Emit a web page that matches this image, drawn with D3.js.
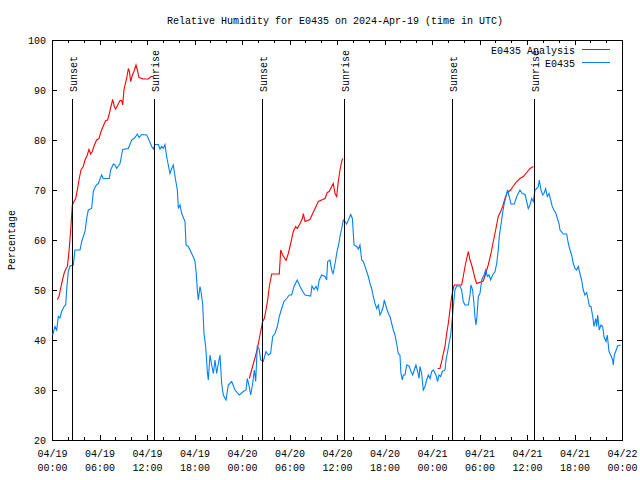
<!DOCTYPE html>
<html><head><meta charset="utf-8">
<script src="https://cdn.jsdelivr.net/npm/d3@7/dist/d3.min.js"></script>
<style>
body{margin:0;background:#fff}
text{font-family:"Liberation Mono","DejaVu Sans Mono",monospace;font-size:10px;fill:#000}
</style>
</head><body>
<svg id="chart" width="640" height="480"></svg>
<script>
// ---------- DATA ----------
const titleText = "Relative Humidity for E0435 on 2024-Apr-19 (time in UTC)";
const yLabel = "Percentage";
const seriesNames = ["E0435 Analysis", "E0435"];
const startTime = "2024-04-19T00:00:00Z";
const endTime = "2024-04-22T00:00:00Z";
const yTicks = [20, 30, 40, 50, 60, 70, 80, 90, 100];
const sunsetHours = [2.57, 26.57, 50.57];
const sunriseHours = [12.92, 36.84, 60.85];

// observations (hours since start, %)
const obsHours = [0.08,0.38,0.59,0.8,1.0,1.22,1.52,1.73,1.85,2.06,2.27,2.69,2.9,3.54,3.75,3.96,4.17,4.38,4.59,5.0,5.22,5.51,5.85,6.27,6.48,7.24,7.41,7.75,7.96,8.17,8.59,8.93,9.64,10.06,10.48,10.78,11.0,11.33,11.96,12.17,12.59,12.8,13.0,13.43,13.64,13.85,14.06,14.27,14.48,14.69,14.9,15.12,15.32,15.54,15.83,15.96,16.17,16.38,16.8,16.93,17.22,17.64,17.94,18.06,18.2,18.36,18.48,18.69,18.82,19.03,19.2,19.41,19.62,19.74,19.96,20.17,20.38,20.59,20.8,21.01,21.22,21.43,21.64,21.98,22.27,22.7,23.11,23.66,24.17,24.5,24.67,24.92,25.1,25.35,25.56,25.73,25.93,26.15,26.36,26.69,27.03,27.32,27.61,27.88,28.17,28.46,28.71,29.01,29.3,29.64,29.97,30.27,30.57,30.98,31.33,31.67,31.96,32.67,32.84,33.1,33.35,33.55,33.76,34.06,34.48,34.69,34.82,35.11,35.33,35.5,35.6,35.8,36.0,36.16,36.38,36.59,36.8,37.01,37.22,37.43,37.73,37.94,38.15,38.48,38.69,38.9,39.12,39.33,39.54,39.75,39.96,40.17,40.38,40.58,40.8,41.01,41.22,41.43,41.64,41.85,41.97,42.27,42.48,42.69,42.91,43.11,43.32,43.53,43.74,43.95,44.08,44.25,44.38,44.59,44.8,45.1,45.35,45.56,45.76,45.97,46.19,46.36,46.48,46.69,46.9,47.11,47.33,47.54,47.75,47.96,48.16,48.5,48.71,48.88,49.09,49.3,49.64,49.77,49.98,50.15,50.36,50.56,50.69,50.9,51.11,51.53,51.74,51.95,52.17,52.59,52.8,52.92,53.13,53.3,53.42,53.55,53.68,53.85,54.06,54.28,54.57,54.78,54.99,55.2,55.41,55.66,55.96,56.17,56.37,56.5,56.68,56.88,57.09,57.34,57.55,57.75,57.98,58.4,58.7,59.11,59.4,59.75,59.96,60.16,60.38,60.59,60.8,61.01,61.22,61.43,61.55,61.77,61.98,62.14,62.36,62.56,62.78,62.99,63.19,63.41,63.66,63.83,64.04,64.17,64.59,65.01,65.22,65.43,65.64,65.85,66.06,66.27,66.48,66.69,66.9,67.11,67.32,67.54,67.74,67.87,68.08,68.3,68.46,68.68,68.8,68.93,69.13,69.34,69.56,69.72,69.98,70.14,70.36,70.57,70.82,70.9,71.03,71.2,71.45,71.83];
const obsValues = [41,42.7,42,44.7,44.4,45.7,46.7,47,50,53.7,54.8,55,58,58,59.7,60.7,61.7,64.3,66,66.3,69.7,70.8,71.3,73,72.3,72.3,74,75.2,75,74.3,75.3,78.1,78.3,80,80.5,81.2,80.5,81.1,81,80.3,78.7,78.2,79.1,79.1,78.2,78.7,78.3,79.1,76.7,75,73.3,74.3,75,72.7,70,66.3,67,65.3,63.7,59,58.7,57.3,56.3,55.7,53.7,50,48,50.7,49.7,47.3,41.3,38.7,33.7,32,37,35,33.3,36,33.3,35.3,37,31.3,29,28,31,31.7,30,29,29.7,30,32.3,30.7,29,31.3,34,31.7,38.7,38.3,36,35.7,37.7,37,37.3,40.7,41.3,42.7,44.7,46.3,47.7,48.3,49,49,50.7,52,50.7,49.7,49,48.8,50.8,50.1,50.7,50,52,53,52.7,52,55.7,56,54,53.3,54,55.7,57.7,58.7,60.7,62.3,64,63.7,63.2,64,65.1,64.3,59,58.7,58.2,59,56,55.7,54.7,53.7,52.7,51.3,50.3,48.7,47.3,46.3,47,45,45.7,46.7,48,46.3,45.3,44.7,43.3,42,41,39.3,37.3,37,33.3,32,33,33,35,34.8,33.7,33,34,35,33.7,32.3,34.7,33.3,30,30.7,32,33,32.3,33.7,34,33,31.7,33,32.7,33.7,34,36,37.7,39.3,41,44.3,46.7,50,50.8,50.8,50,47.7,47,47,49,51,50,47.3,44.7,43,44.7,48.7,49.3,52,53,54,52.7,53,52,53,53.7,55.3,58,60.7,62.7,65,67,68.7,70,68.7,67.2,67.2,68.7,70,69.3,69.1,67.7,66.3,67,68.3,67.7,70,70.3,70.7,72,70,69,69.3,70.3,68.7,69.3,68,66.7,66,65.3,64.3,63.3,62,61.2,61.2,59.3,58,57,55.3,54.3,54,54.7,53.3,52,50,49,49.5,48,46.8,46.7,44.7,42.7,44.3,42.7,45,42,43,42.7,40.7,39.7,41,37.7,37,36,35,37,37.7,38.8,39];

// analysis (hours since start, %); null separates daytime gaps
const anaHours = [0.67,0.88,1.22,1.52,1.77,1.94,2.15,2.36,2.57,2.78,2.99,3.2,3.41,3.66,3.95,4.17,4.46,4.67,4.89,5.09,5.35,5.64,5.94,6.19,6.48,6.78,7.03,7.24,7.45,7.66,7.87,8.04,8.3,8.59,8.8,8.93,9.09,9.22,9.43,9.64,9.77,9.94,10.15,10.36,10.61,10.78,10.99,11.54,12.17,12.5,12.8,
  18.0,
  24.92,25.22,25.51,25.86,26.15,26.4,26.61,26.82,27.03,27.24,27.45,27.75,28.71,28.89,29.14,29.56,29.85,30.15,30.48,30.78,30.99,31.33,31.62,31.75,31.96,32.59,32.93,33.35,33.64,34.06,34.48,34.77,35.02,35.33,35.53,35.75,35.96,36.16,36.38,36.59,36.72,
  42.0,
  48.72,49.0,49.22,49.43,49.64,49.85,50.06,50.27,50.48,50.69,50.82,51.53,51.74,51.95,52.17,52.38,52.59,52.8,53.01,53.22,53.43,53.64,54.48,54.78,55.1,55.41,55.74,56.04,56.37,56.68,56.93,57.22,57.51,57.94,58.27,58.7,59.11,59.53,59.96,60.38,60.8];
const anaValues = [48.1,48.7,51.3,53.3,54.3,54.7,57.7,62,67,67.7,68.3,70,72,74,74.7,76,77,78.1,77.2,77.7,79,80,80.3,81.7,82.8,83.9,84,85.3,86.7,88.1,86.7,86.2,87,87.9,87.9,87,90,91,92.3,94.3,93.7,91.7,93,93.7,95,94,92.5,92.2,92.2,92.7,92.7,
  null,
  32.3,34,35.7,37.7,40,42,43.7,44.3,46,48,50.7,53.2,53.2,58,57,55.9,57.3,59.3,61.7,62.7,62.3,63.3,64.3,65.3,63.7,64.1,65.3,66.7,67.7,68,68.3,69.5,69.7,70.7,71.3,69.3,68.7,71.7,74,75.7,76.3,
  null,
  34.3,34.3,35.7,37.3,38.7,41.3,43.3,46,48.7,50.3,51,51,51,52.7,54.7,56.3,57.7,56,55,53.7,52.3,51.3,51.8,53.3,55,57,59.7,62,64.7,65.7,66.7,68.3,69.5,70,70.8,71.7,72.3,72.7,73.5,74.3,74.7];

const colors = ["#ff0000", "#0080ff"];

// ---------- CHART ----------
const svg = d3.select("#chart");
const M = {left: 52, right: 622, top: 40, bottom: 440};
const t0 = new Date(startTime), t1 = new Date(endTime);
const toDate = h => new Date(t0.getTime() + h * 3600000);
const x = d3.scaleUtc().domain([t0, t1]).range([M.left, M.right]);
const y = d3.scaleLinear().domain([20, 100]).range([M.bottom, M.top]);

svg.append("rect").attr("width", 640).attr("height", 480).attr("fill", "#fff");

function styleAxis(g) {
  g.select(".domain").remove();
  g.selectAll("line").attr("stroke", "#000").attr("shape-rendering", "crispEdges");
}

const majorX = d3.utcHour.every(6), minorX = d3.utcHour.every(2);
// bottom minor + major
svg.append("g").attr("transform", `translate(0,${M.bottom})`)
  .call(d3.axisBottom(x).ticks(minorX).tickSize(-3).tickFormat(""))
  .call(styleAxis);
const xb = svg.append("g").attr("transform", `translate(0,${M.bottom})`)
  .call(d3.axisBottom(x).ticks(majorX).tickSize(-5).tickFormat(""))
  .call(styleAxis);
// top mirror
svg.append("g").attr("transform", `translate(0,${M.top})`)
  .call(d3.axisTop(x).ticks(minorX).tickSize(-3).tickFormat(""))
  .call(styleAxis);
svg.append("g").attr("transform", `translate(0,${M.top})`)
  .call(d3.axisTop(x).ticks(majorX).tickSize(-5).tickFormat(""))
  .call(styleAxis);

// x labels (two lines)
const fmtD = d3.utcFormat("%m/%d"), fmtT = d3.utcFormat("%H:%M");
xb.selectAll(".tick").each(function(d) {
  const t = d3.select(this).append("text").attr("text-anchor", "middle").attr("fill", "#000");
  t.append("tspan").attr("x", 0).attr("y", 17).text(fmtD(d));
  t.append("tspan").attr("x", 0).attr("y", 31).text(fmtT(d));
});

// y axes
svg.append("g").attr("transform", `translate(${M.left},0)`)
  .call(d3.axisLeft(y).tickValues(yTicks).tickSize(-5).tickPadding(6).tickFormat(d3.format("d")))
  .call(styleAxis)
  .call(g => g.selectAll("text").attr("fill", "#000").style("font-size", "10px"));
svg.append("g").attr("transform", `translate(${M.right},0)`)
  .call(d3.axisRight(y).tickValues(yTicks).tickSize(-5).tickFormat(""))
  .call(styleAxis);

// border
svg.append("rect").attr("x", M.left + 0.5).attr("y", M.top + 0.5)
  .attr("width", M.right - M.left).attr("height", M.bottom - M.top)
  .attr("fill", "none").attr("stroke", "#000");

// series
const line = d3.line().defined(d => d.v != null).x(d => x(toDate(d.h))).y(d => y(d.v));
const anaData = anaHours.map((h, i) => ({h, v: anaValues[i]}));
const obsData = obsHours.map((h, i) => ({h, v: obsValues[i]}));
svg.append("path").datum(anaData).attr("d", line)
  .attr("fill", "none").attr("stroke", colors[0]).attr("stroke-width", 1.1);
svg.append("path").datum(obsData).attr("d", line)
  .attr("fill", "none").attr("stroke", colors[1]).attr("stroke-width", 1.1);

// sunrise / sunset markers
const sunEvents = sunsetHours.map(h => ({h, label: "Sunset"}))
  .concat(sunriseHours.map(h => ({h, label: "Sunrise"})));
sunEvents.forEach(e => {
  const xp = Math.round(x(toDate(e.h))) + 0.5;
  svg.append("line").attr("x1", xp).attr("x2", xp).attr("y1", M.bottom).attr("y2", 99)
    .attr("stroke", "#000").attr("shape-rendering", "crispEdges");
  svg.append("text").attr("transform", `translate(${xp + 4},92) rotate(-90)`)
    .attr("text-anchor", "start").text(e.label);
});

// legend
seriesNames.forEach((name, i) => {
  const ly = 49.5 + i * 13;
  svg.append("text").attr("x", 575).attr("y", ly + 4).attr("text-anchor", "end").text(name);
  svg.append("line").attr("x1", 582).attr("x2", 610).attr("y1", ly).attr("y2", ly)
    .attr("stroke", colors[i]).attr("shape-rendering", "crispEdges");
});

// title & y label
svg.append("text").attr("x", 335).attr("y", 24).attr("text-anchor", "middle").text(titleText);
svg.append("text").attr("transform", "translate(15,240) rotate(-90)").attr("text-anchor", "middle").text(yLabel);
</script>
</body></html>
